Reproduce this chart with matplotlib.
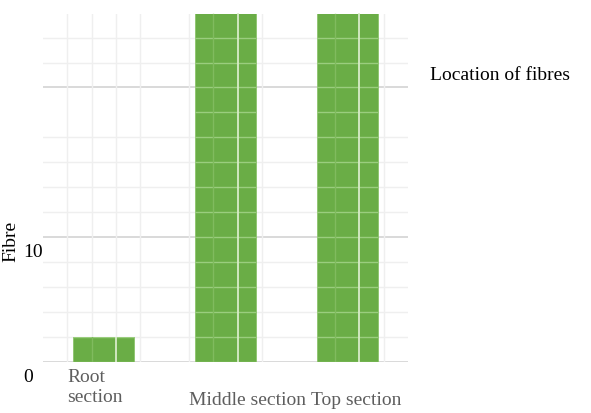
import matplotlib.pyplot as plt
import matplotlib.transforms as mtransforms

plt.rcParams['font.family'] = ['Liberation Serif', 'DejaVu Serif']

# data
categories = ["Root\nsection", "Middle section", "Top section"]
fibre = [2, 28, 28]
ytick_values = [0, 10]
ytick_labels = ["0", "10"]
grid_major_y = [0, 10, 22]
grid_minor_y = [2, 4, 6, 8, 12, 14, 16, 18, 24, 26]
grid_x = [0.7, 0.9, 1.1, 1.3, 1.7, 1.9, 2.1, 2.3, 2.9, 3.1, 3.3]

W, H = 591, 414
fig = plt.figure(figsize=(W / 100, H / 100), dpi=100)
ax = fig.add_axes([43 / W, 1 - 362.5 / H, (408 - 43) / W, (362.5 - 15) / H])

xs = [1, 2, 3]
bar_color = '#6aad46'

# background grid
for y in grid_minor_y:
    ax.axhline(y, color='#efefef', lw=1.0, zorder=0)
for y in grid_major_y:
    ax.axhline(y, color='#d3d3d3', lw=1.2, zorder=0)
for x in grid_x:
    ax.axvline(x, color='#efefef', lw=1.0, zorder=0)

bars = ax.bar(xs, fibre, width=0.5, color=bar_color, edgecolor='#8cc46c',
              linewidth=0.6, zorder=2)

# lines seen through the bars
for b, c in zip(bars, xs):
    for y in grid_minor_y + grid_major_y + [20]:
        ln = ax.axhline(y, color='#9acd7e', lw=1.0, zorder=3)
        ln.set_clip_path(b)
    ln = ax.axvline(c - 0.1, color='#80bb5e', lw=1.0, zorder=3)
    ln.set_clip_path(b)
    ln = ax.axvline(c + 0.1, color='#d8ecc9', lw=1.3, zorder=3)
    ln.set_clip_path(b)

ax.set_xlim(0.5, 3.5)
ax.set_ylim(0, 27.9)
ax.set_xticks([])
ax.set_yticks([])
for s in ax.spines.values():
    s.set_visible(False)

# y tick labels (drawn a little below their gridlines, as in the original)
ytr = mtransforms.blended_transform_factory(fig.transFigure, ax.transData)
off = mtransforms.ScaledTranslation(0, -15 / 100, fig.dpi_scale_trans)
for v, lab in zip(ytick_values, ytick_labels):
    ax.text(23 / W, v, lab, transform=ytr + off, ha='left', va='center',
            fontsize=14, color='black', clip_on=False)

# category labels
xtr = mtransforms.blended_transform_factory(ax.transData, fig.transFigure)
for i, (c, lab) in enumerate(zip(xs, categories)):
    top = 369 if "\n" in lab else 392
    ax.text(c - 0.3, 1 - top / H, lab, transform=xtr, ha='left', va='top',
            fontsize=14, color='#5e5e5e', clip_on=False)

fig.text(11 / W, 1 - 241 / H, "Fibre", rotation=90, ha='center', va='center',
         fontsize=14, color='black')
fig.text(430 / W, 1 - 75 / H, "Location of fibres", ha='left', va='center',
         fontsize=14, color='black')

fig.savefig('out.png', dpi=100)
